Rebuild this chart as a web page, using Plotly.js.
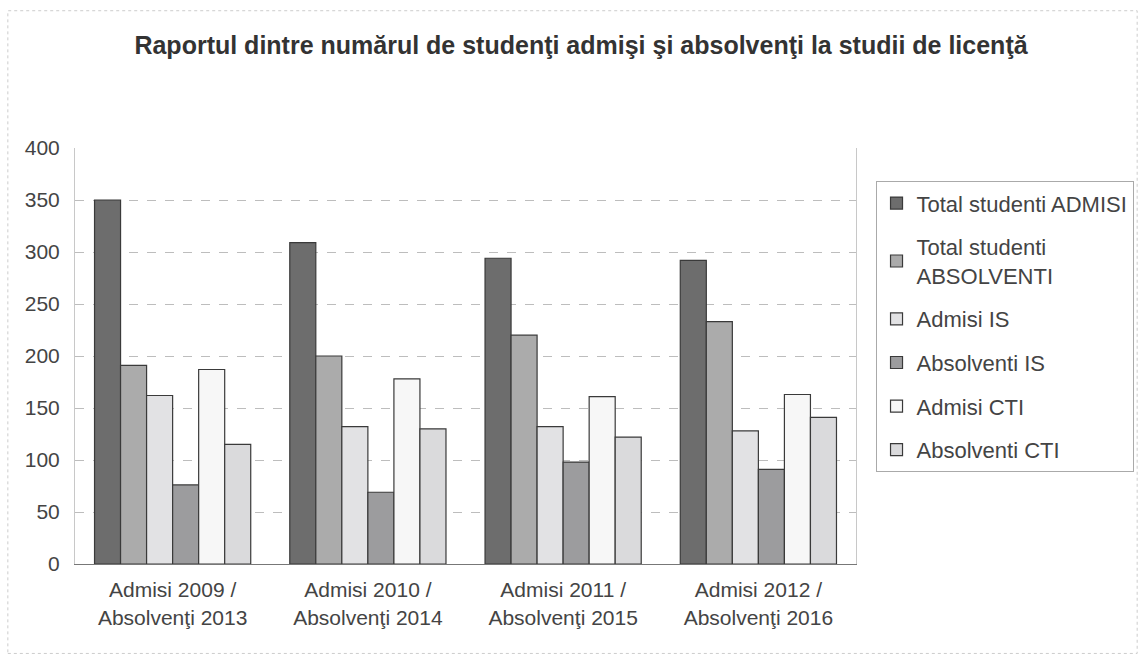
<!DOCTYPE html>
<html>
<head>
<meta charset="utf-8">
<script src="https://cdn.plot.ly/plotly-3.0.1.min.js"></script>
<style>html,body{margin:0;padding:0;background:#fff;}#chart{width:1146px;height:656px;}</style>
</head>
<body>
<div id="chart"></div>
<script>
const categories = ["Admisi 2009 /<br>Absolvenţi 2013", "Admisi 2010 /<br>Absolvenţi 2014", "Admisi 2011 /<br>Absolvenţi 2015", "Admisi 2012 /<br>Absolvenţi 2016"];
const seriesNames = ["Total studenti ADMISI", "Total studenti<br>ABSOLVENTI", "Admisi IS", "Absolventi IS", "Admisi CTI", "Absolventi CTI"];
const totalAdmisi = [350, 309, 294, 292];
const totalAbsolventi = [191, 200, 220, 233];
const admisiIS = [162, 132, 132, 128];
const absolventiIS = [76, 69, 98, 91];
const admisiCTI = [187, 178, 161, 163];
const absolventiCTI = [115, 130, 122, 141];
const seriesValues = [totalAdmisi, totalAbsolventi, admisiIS, absolventiIS, admisiCTI, absolventiCTI];
const colors = ["#6d6d6d", "#ababab", "#e2e2e4", "#9c9c9e", "#f7f7f7", "#dadadc"];

const traces = seriesValues.map((vals, i) => ({
  type: "bar",
  name: seriesNames[i],
  x: categories,
  y: vals,
  legendgroup: "g" + i,
  marker: {color: colors[i], line: {color: "#3a3a3a", width: 1.2}}
}));

const layout = {
  width: 1146, height: 656,
  margin: {l: 75, r: 288, t: 148, b: 92},
  paper_bgcolor: "#ffffff",
  plot_bgcolor: "#ffffff",
  font: {family: "Liberation Sans, Arial, sans-serif", color: "#444"},
  title: {text: "<b>Raportul dintre numărul de studenţi admişi şi absolvenţi la studii de licenţă</b>",
          x: 0.507, xref: "container", xanchor: "center", y: 0.931, yref: "container", yanchor: "middle",
          font: {size: 25, color: "#333", family: "Liberation Sans, Arial, sans-serif"}},
  barmode: "group",
  bargap: 0.2,
  bargroupgap: 0,
  xaxis: {
    tickfont: {size: 21, color: "#444"},
    showline: true, linecolor: "#777", linewidth: 1,
    ticks: "", mirror: false, ticklabelstandoff: 7
  },
  yaxis: {
    range: [0, 400], dtick: 50,
    tickfont: {size: 21, color: "#444"},
    gridcolor: "#bdbdbd", griddash: "dash", gridwidth: 1,
    showline: true, linecolor: "#c8c8c8", mirror: true,
    zeroline: false, ticks: "", ticklabelstandoff: 10
  },
  legend: {
    x: 1.025, y: 0.92, xanchor: "left", yanchor: "top",
    font: {size: 22, color: "#444"},
    bordercolor: "#aaaaaa", borderwidth: 1,
    tracegroupgap: 12, traceorder: "grouped",
    itemwidth: 30
  },
  shapes: [
    {type: "rect", xref: "paper", yref: "paper", x0: -0.086, x1: 1.36, y0: -0.215, y1: 1.33, line: {color: "#cccccc", width: 1, dash: "dot"}}
  ]
};

Plotly.newPlot("chart", traces, layout, {displayModeBar: false});
</script>
</body>
</html>
